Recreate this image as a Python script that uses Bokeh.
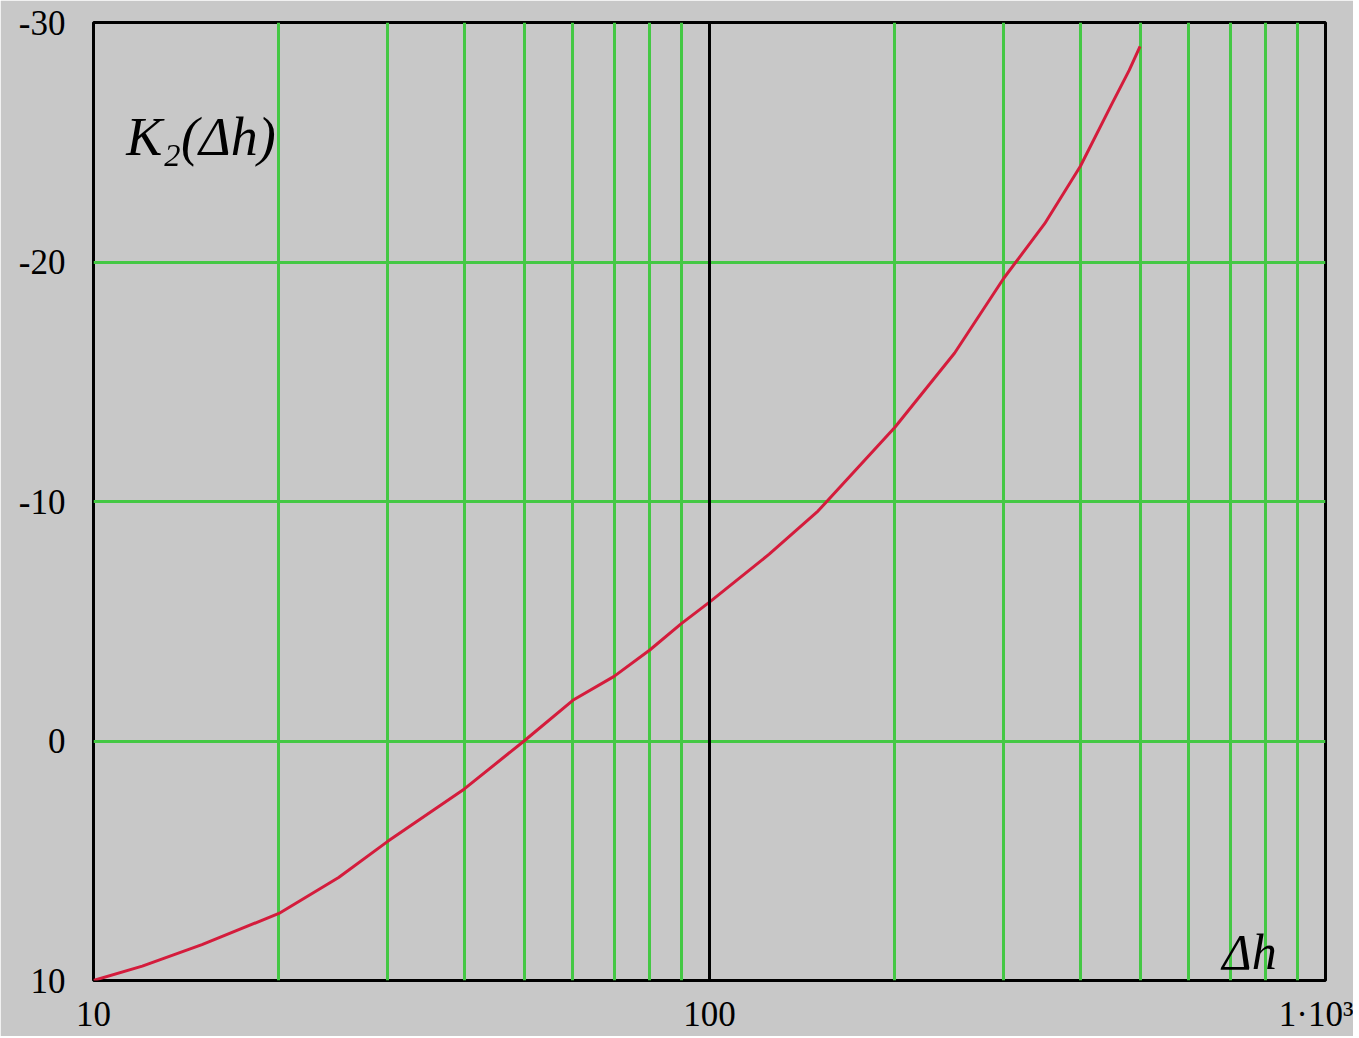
from bokeh.plotting import figure
from bokeh.models import Range1d, FixedTicker, Span, Label
from bokeh.embed import file_html
from bokeh.resources import INLINE

# data
dh = [10, 12, 15, 20, 25, 30, 40, 50, 60, 70, 80, 90, 100, 125, 150, 200, 250, 300, 350, 400, 450, 480, 500]
k2 = [10, 9.4, 8.5, 7.2, 5.7, 4.2, 2.0, 0, -1.7, -2.7, -3.8, -4.9, -5.8, -7.8, -9.6, -13.1, -16.2, -19.3, -21.6, -24.0, -26.6, -28.0, -29.0]

x_ticks = [10, 100, 1000]
x_tick_labels = {10: "10", 100: "100", 1000: "1\u00b710\u00b3"}
y_ticks = [10, 0, -10, -20, -30]
y_tick_labels = {10: "10", 0: "0", -10: "-10", -20: "-20", -30: "-30"}
x_grid = [20, 30, 40, 50, 60, 70, 80, 90, 200, 300, 400, 500, 600, 700, 800, 900]
y_grid = [0, -10, -20]

BG = "#c8c8c8"
GREEN = "#44c844"

p = figure(x_axis_type="log", x_range=Range1d(10, 1000), y_range=Range1d(10, -30),
           frame_width=1232, frame_height=958,
           min_border_left=93, min_border_top=22, min_border_right=28, min_border_bottom=50,
           output_backend="svg", toolbar_location=None,
           background_fill_color=BG, border_fill_color=BG)
p.outline_line_color = "black"
p.outline_line_width = 3

p.xaxis.ticker = FixedTicker(ticks=x_ticks)
p.xaxis.major_label_overrides = x_tick_labels
p.yaxis.ticker = FixedTicker(ticks=y_ticks)
p.yaxis.major_label_overrides = y_tick_labels
for ax in (p.xaxis, p.yaxis):
    ax.axis_line_color = None
    ax.major_tick_line_color = None
    ax.minor_tick_line_color = None
    ax.major_label_text_font = "Liberation Serif"
    ax.major_label_text_font_size = "35px"
    ax.major_label_text_color = "black"
p.xaxis.major_label_standoff = 8
p.yaxis.major_label_standoff = 22

p.xgrid.ticker = FixedTicker(ticks=x_grid)
p.ygrid.ticker = FixedTicker(ticks=y_grid)
for g in (p.xgrid, p.ygrid):
    g.grid_line_color = GREEN
    g.grid_line_width = 3

p.add_layout(Span(location=100, dimension="height", line_color="black", line_width=3))

p.line(dh, k2, line_color="#d41c3c", line_width=3)

p.add_layout(Label(x=11.3, y=-25.2, text="K\u2082(\u0394h)", text_font="Liberation Serif",
                   text_font_style="italic", text_font_size="54px", text_baseline="middle",
                   text_color="black"))
p.add_layout(Label(x=680, y=8.8, text="\u0394h", text_font="Liberation Serif",
                   text_font_style="italic", text_font_size="50px", text_baseline="middle",
                   text_color="black"))

open("out.html", "w").write(file_html(p, INLINE))
